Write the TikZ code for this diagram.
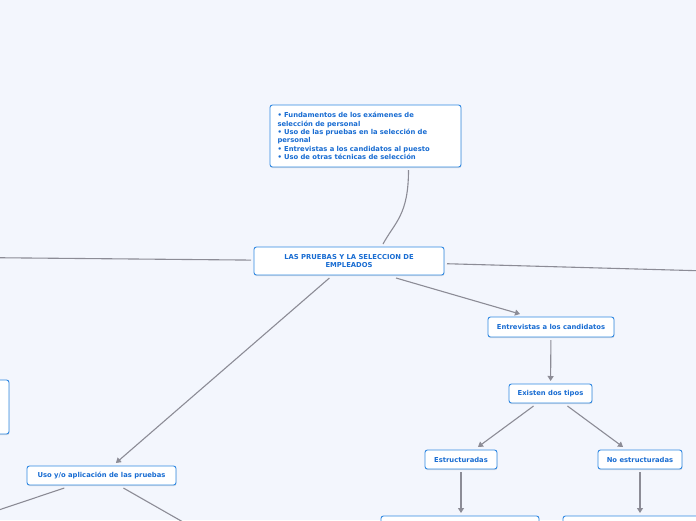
\documentclass[tikz,border=0pt]{standalone}
\usepackage{fontspec}
\setmainfont{DejaVu Sans}
\usepackage{xcolor}
\usetikzlibrary{arrows.meta, shadows}
\definecolor{mapbg}{RGB}{243,246,253}
\definecolor{boxblue}{RGB}{48,136,226}
\definecolor{txtblue}{RGB}{24,108,210}
\definecolor{linkgray}{RGB}{140,140,150}
\tikzset{
    topic/.style={draw=boxblue, line width=0.9pt, rounded corners=2.5pt, fill=white,
        text=txtblue, font=\bfseries\fontsize{6.8}{8.4}\selectfont, inner sep=0pt,
        outer sep=3pt, align=center,
        drop shadow={opacity=0.22, shadow xshift=0.4pt, shadow yshift=-1.2pt}},
    link/.style={draw=linkgray, line width=1.1pt},
    arrowlink/.style={link, -{Triangle[width=6pt,length=5pt]}},
}
\begin{document}
\begin{tikzpicture}[x=1pt, y=-1pt]
    \fill[mapbg] (0,0) rectangle (696,520);
    \useasboundingbox (0,0) rectangle (696,520);
    \clip (0,0) rectangle (696,520);
    % main topic and notes
    \node[topic, minimum width=191pt, minimum height=62pt, text width=176pt, align=left]
        (facts) at (365.5,136) {• Fundamentos de los exámenes de\\selección de personal\\
        • Uso de las pruebas en la selección de\\personal\\
        • Entrevistas a los candidatos al puesto\\• Uso de otras técnicas de selección};
    \node[topic, minimum width=190pt, minimum height=28pt] (root) at (349,261)
        {LAS PRUEBAS Y LA SELECCION DE\\EMPLEADOS};
    % right branch
    \node[topic, minimum width=126pt, minimum height=20pt] (entrev) at (551,327)
        {Entrevistas a los candidatos};
    \node[topic, minimum width=83pt, minimum height=19pt] (tipos) at (550.5,393.5)
        {Existen dos tipos};
    \node[topic, minimum width=72pt, minimum height=19pt] (estruc) at (461,459.5)
        {Estructuradas};
    \node[topic, minimum width=84pt, minimum height=19pt] (noestruc) at (640,459.5)
        {No estructuradas};
    \node[topic, minimum width=158pt, minimum height=40pt] (estrucdet) at (460,536) {};
    \node[topic, minimum width=158pt, minimum height=40pt] (noestrucdet) at (642,536) {};
    % left branch
    \node[topic, minimum width=149pt, minimum height=19pt] (uso) at (101.5,475.5)
        {Uso y/o aplicación de las pruebas};
    \node[topic, minimum width=150pt, minimum height=54pt] (leftbox) at (-66,407) {};
    \coordinate (west) at (-80,257);
    \coordinate (east) at (780,273);
    \coordinate (usoa) at (-40,523);
    \coordinate (usob) at (190,526);
    % connectors
    \draw[link] ([xshift=43pt]facts.south) .. controls +(0,45) and +(12,-22) .. ([xshift=34pt]root.north);
    \draw[link] (root) -- (west);
    \draw[link] (root) -- (east);
    \draw[arrowlink] (root) -- (uso);
    \draw[arrowlink] ([xshift=47pt]root.south) -- ([xshift=-31pt]entrev.north);
    \draw[arrowlink] (entrev) -- (tipos);
    \draw[arrowlink] (tipos) -- (estruc);
    \draw[arrowlink] (tipos) -- (noestruc);
    \draw[arrowlink] (estruc) -- (estruc |- estrucdet.north);
    \draw[arrowlink] (noestruc) -- (noestruc |- noestrucdet.north);
    \draw[link] (uso) -- (usoa);
    \draw[link] (uso) -- (usob);
\end{tikzpicture}
\end{document}
